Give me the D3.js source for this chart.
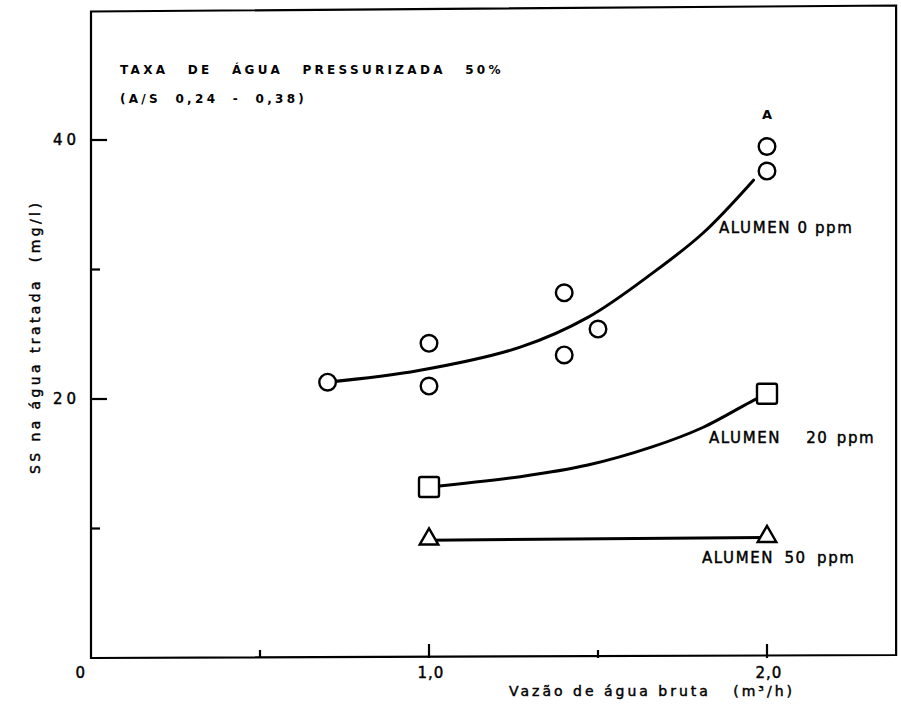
<!DOCTYPE html>
<html>
<head>
<meta charset="utf-8">
<script src="https://cdn.jsdelivr.net/npm/d3@7"></script>
<style>
  html, body { margin: 0; padding: 0; background: #fff; }
  svg { display: block; }
  text { font-family: "DejaVu Sans", "Liberation Sans", sans-serif; fill: #000; white-space: pre; }
  .ink { stroke: #000; stroke-width: 0.45; }
</style>
</head>
<body>
<svg id="chart" width="901" height="704"></svg>
<script>
// Measured points (Vazão m³/h, SS mg/l)
const circlePts = [[0.7, 21.3], [1.0, 24.3], [1.0, 21.0], [1.4, 28.2], [1.4, 23.4], [1.5, 25.4], [2.0, 39.5], [2.0, 37.6]];
const squarePts = [[1.0, 13.2], [2.0, 20.4]];
const trianglePts = [[1.0, 9.1], [2.0, 9.3]];

// Hand-fitted trend curves
const curve0 = [[0.7, 21.3], [0.97, 22.2], [1.27, 24.0], [1.47, 26.3], [1.66, 29.7], [1.81, 32.8], [1.96, 36.9]];
const curve20 = [[1.0, 13.2], [1.27, 14.0], [1.47, 14.9], [1.66, 16.3], [1.81, 17.8], [1.96, 19.9], [2.0, 20.4]];
const curve50 = [[1.0, 9.1], [2.0, 9.3]];

const xTicksMajor = [1.0, 2.0];
const xTicksMinor = [0.5, 1.5];
const xTickLabels = ["1,0", "2,0"];
const yTicksMajor = [20, 40];
const yTicksMinor = [10, 30];
const yTickLabels = ["20", "40"];

const seriesLabels = ["ALUMEN 0 ppm", "ALUMEN   20 ppm", "ALUMEN 50 ppm"];

const svg = d3.select("#chart");

const x = d3.scaleLinear().domain([0, 2]).range([91, 767]);
const y = d3.scaleLinear().domain([0, 40]).range([658, 140]);
const xMax = 2.382, yMax = 50;

// Frame
const frame = svg.append("g").attr("fill", "none").attr("stroke", "#000").attr("stroke-width", 2.2);
frame.append("path")
  .attr("d", `M${x(0)},${y(yMax) + 1}L${x(xMax)},${y(yMax) - 5}L${x(xMax)},${y(0) - 3}L${x(0)},${y(0)}Z`);

// Y ticks (inward)
frame.selectAll(".ytM").data(yTicksMajor).join("line")
  .attr("x1", x(0)).attr("x2", x(0) + 16).attr("y1", d => y(d)).attr("y2", d => y(d));
frame.selectAll(".ytm").data(yTicksMinor).join("line")
  .attr("x1", x(0)).attr("x2", x(0) + 9).attr("y1", d => y(d)).attr("y2", d => y(d));
// X ticks (inward)
frame.selectAll(".xtM").data(xTicksMajor).join("line")
  .attr("x1", d => x(d)).attr("x2", d => x(d)).attr("y1", y(0)).attr("y2", y(0) - 14);
frame.selectAll(".xtm").data(xTicksMinor).join("line")
  .attr("x1", d => x(d)).attr("x2", d => x(d)).attr("y1", y(0)).attr("y2", y(0) - 8);

// Tick labels
const tl = svg.append("g").attr("font-size", 15).attr("class", "ink");
tl.selectAll(".yl").data(yTicksMajor).join("text")
  .attr("x", x(0) - 11).attr("y", d => y(d) + 5).attr("text-anchor", "end").attr("letter-spacing", 4)
  .text((d, i) => yTickLabels[i]);
tl.append("text").attr("x", x(0) - 6).attr("y", y(0) + 20).attr("text-anchor", "end").text("0");
tl.selectAll(".xl").data(xTicksMajor).join("text")
  .attr("x", d => x(d) + 2).attr("y", y(0) + 20).attr("text-anchor", "middle").attr("letter-spacing", 1)
  .text((d, i) => xTickLabels[i]);

// Axis titles
svg.append("text").attr("class", "ink")
  .attr("x", 652).attr("y", 696).attr("text-anchor", "middle")
  .attr("font-size", 14).attr("letter-spacing", 3.0)
  .text("Vazão de água bruta   (m³/h)");
svg.append("text").attr("class", "ink")
  .attr("transform", `translate(40,${y(24.8)}) rotate(-90)`).attr("text-anchor", "middle")
  .attr("font-size", 14).attr("letter-spacing", 3.4)
  .text("SS na água tratada  (mg/l)");

// Header notes
const hdr = svg.append("g").attr("font-size", 12).attr("font-weight", "bold").attr("letter-spacing", 3.3);
hdr.append("text").attr("x", 120).attr("y", 74).attr("word-spacing", 12).text("TAXA DE ÁGUA PRESSURIZADA 50%");
hdr.append("text").attr("x", 120).attr("y", 103).attr("word-spacing", 7).text("(A/S 0,24 - 0,38)");

// Trend lines
const line = d3.line().x(d => x(d[0])).y(d => y(d[1])).curve(d3.curveCatmullRom.alpha(0.5));
const lines = svg.append("g").attr("fill", "none").attr("stroke", "#000").attr("stroke-width", 3).attr("stroke-linecap", "round");
[curve0, curve20, curve50].forEach(c => lines.append("path").attr("d", line(c)));

// Markers
const mk = svg.append("g").attr("fill", "#fff").attr("stroke", "#000").attr("stroke-width", 2.4);
mk.selectAll("circle").data(circlePts).join("circle")
  .attr("cx", d => x(d[0])).attr("cy", d => y(d[1])).attr("r", 8.3);
mk.selectAll("rect").data(squarePts).join("rect")
  .attr("x", d => x(d[0]) - 10).attr("y", d => y(d[1]) - 10).attr("width", 20).attr("height", 20).attr("rx", 2);
const tri = d3.symbol().type(d3.symbolTriangle).size(150);
mk.selectAll(".tri").data(trianglePts).join("path")
  .attr("transform", d => `translate(${x(d[0])},${y(d[1]) - 1})`).attr("d", tri);

// Series labels
const sl = svg.append("g").attr("font-size", 15).attr("letter-spacing", 1.6).attr("class", "ink");
sl.append("text").attr("x", 719).attr("y", y(32.8)).text(seriesLabels[0]);
sl.append("text").attr("x", 709).attr("y", y(16.6)).attr("word-spacing", 2).text(seriesLabels[1]);
sl.append("text").attr("x", 702).attr("y", y(7.3)).attr("word-spacing", 4).text(seriesLabels[2]);
svg.append("text").attr("x", x(2.0) - 5).attr("y", y(41.6)).attr("font-size", 13).attr("font-weight", "bold").text("A");
</script>
</body>
</html>
